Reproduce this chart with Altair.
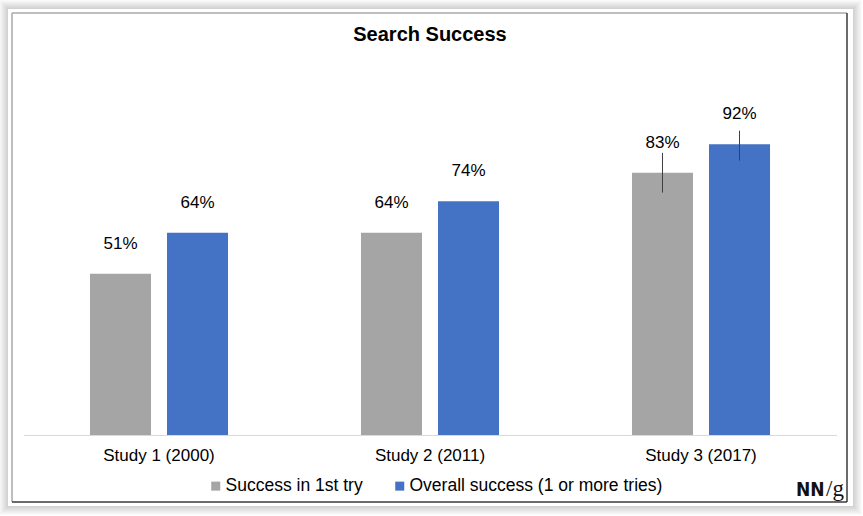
import altair as alt
import pandas as pd

studies = ["Study 1 (2000)", "Study 2 (2011)", "Study 3 (2017)"]
series_names = ["Success in 1st try", "Overall success (1 or more tries)"]
first_try = [51, 64, 83]
overall = [64, 74, 92]
# error bars (only shown for Study 3)
err_study = ["Study 3 (2017)", "Study 3 (2017)"]
err_series = ["Success in 1st try", "Overall success (1 or more tries)"]
err_low = [76.7, 86.8]
err_high = [89.3, 96.3]

title_text = "Search Success"
colors = ["#a5a5a5", "#4472c4"]

rows = []
for s, a, b in zip(studies, first_try, overall):
    rows.append({"study": s, "series": series_names[0], "value": a, "label": f"{a}%"})
    rows.append({"study": s, "series": series_names[1], "value": b, "label": f"{b}%"})
df = pd.DataFrame(rows)
err_df = pd.DataFrame({"study": err_study, "series": err_series, "lo": err_low, "hi": err_high})

W, H = 813, 316
FONT = "Liberation Sans"

x_enc = alt.X("study:N", sort=studies,
              scale=alt.Scale(paddingInner=0, paddingOuter=0),
              axis=alt.Axis(title=None, labelAngle=0, ticks=False, labelFontSize=17,
                            labelColor="#000000", labelPadding=12,
                            domainColor="#d9d9d9", domainWidth=1.2, zindex=1, grid=False))
xo_enc = alt.XOffset("series:N", sort=series_names,
                     scale=alt.Scale(paddingInner=0.2078, paddingOuter=0.863))
y_scale = alt.Scale(domain=[0, 100], nice=False, zero=True)

dummy = alt.Data(values=[{"d": 1}])

def deco_rect(x, x2, y, y2, fill, opacity=1.0):
    return alt.Chart(dummy).mark_rect(fill=fill, opacity=opacity).encode(
        x=alt.value(x), x2=alt.value(x2), y=alt.value(y), y2=alt.value(y2))

# card geometry in plot coordinates (plot origin at image (23.5,119))
cx0, cx1, cy0, cy1 = -15.5, 829.5, -110, 387
layers = []
for k in range(9, 0, -1):
    layers.append(deco_rect(cx0 - k, cx1 + k, cy0 - k, cy1 + k, "#000000", 0.02))
layers.append(deco_rect(cx0, cx1, cy0, cy1, "#ffffff"))

bx0, bx1, by0, by1 = -11.5, 823.5, -106, 383
def deco_line(x, x2, y, y2, color, w):
    return alt.Chart(dummy).mark_rule(color=color, strokeWidth=w).encode(
        x=alt.value(x), x2=alt.value(x2), y=alt.value(y), y2=alt.value(y2))

layers.append(deco_line(bx0, bx1, by0, by0, "#a8a8a8", 1.5))
layers.append(deco_line(bx0, bx0, by0, by1, "#a8a8a8", 1.5))
layers.append(deco_line(bx1, bx1, by0, by1, "#3a3a3a", 1.5))
layers.append(deco_line(bx0, bx1, by1, by1, "#3a3a3a", 1.5))

bars = alt.Chart(df).mark_bar().encode(
    x=x_enc, xOffset=xo_enc,
    y=alt.Y("value:Q", scale=y_scale, axis=None),
    color=alt.Color("series:N", sort=series_names,
                    scale=alt.Scale(domain=series_names, range=colors),
                    legend=alt.Legend(orient="none", legendX=183.5, legendY=358,
                                      direction="horizontal", title=None,
                                      symbolType="square", symbolSize=81,
                                      symbolStrokeWidth=0, labelFontSize=17.5,
                                      labelColor="#000000", labelOffset=1,
                                      columnPadding=28, padding=0, labelLimit=0)),
)

labels = alt.Chart(df).mark_text(fontSize=17, color="#000000", baseline="middle", dy=-30).encode(
    x=alt.X("study:N", sort=studies), xOffset=alt.XOffset("series:N", sort=series_names),
    y=alt.Y("value:Q", scale=y_scale), text="label:N")

errs = alt.Chart(err_df).mark_rule(color="#404040", strokeWidth=1).encode(
    x=alt.X("study:N", sort=studies), xOffset=alt.XOffset("series:N", sort=series_names),
    y=alt.Y("lo:Q", scale=y_scale), y2="hi:Q")

title = alt.Chart(alt.Data(values=[{"t": title_text}])).mark_text(
    fontSize=20, fontWeight="bold", color="#000000", align="center", baseline="middle").encode(
    text="t:N", x=alt.value(406.5), y=alt.value(-84))

logo_nn = alt.Chart(alt.Data(values=[{"t": "NN"}])).mark_text(
    fontSize=19, fontWeight="bold", color="#111111", align="left", baseline="alphabetic",
    font="DejaVu Sans Condensed").encode(text="t:N", x=alt.value(772.5), y=alt.value(377))
logo_g = alt.Chart(alt.Data(values=[{"t": "/g"}])).mark_text(
    fontSize=23, color="#111111", align="left", baseline="alphabetic",
    font="Liberation Serif").encode(text="t:N", x=alt.value(802.5), y=alt.value(377))

layers += [bars, errs, labels, title, logo_nn, logo_g]

chart = alt.layer(*layers).properties(
    width=W, height=H,
    autosize=alt.AutoSizeParams(type="none"),
    padding={"left": 23.5, "top": 119, "right": 26.5, "bottom": 81},
    background="#ffffff",
).configure_view(stroke=None).configure(font=FONT)

chart.save("out.html", embed_options={"renderer": "svg", "actions": False})
